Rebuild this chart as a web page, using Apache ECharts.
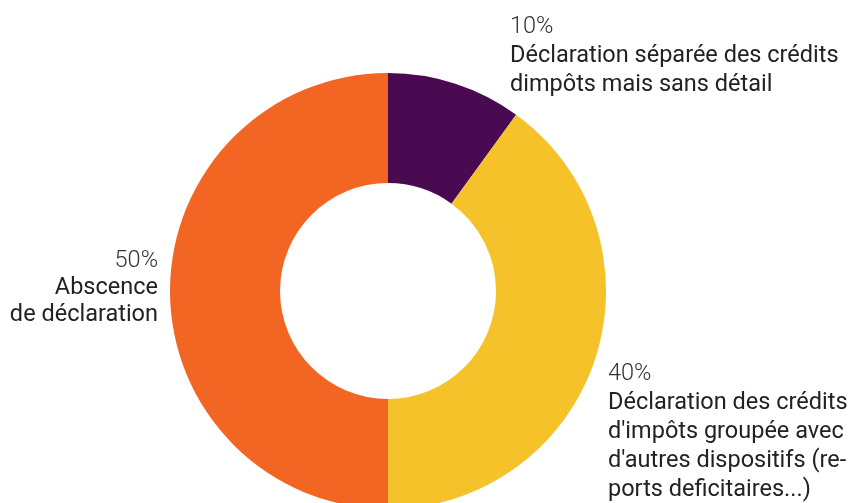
<!DOCTYPE html>
<html>
<head>
<meta charset="utf-8">
<script src="https://cdn.jsdelivr.net/npm/echarts@6/dist/echarts.min.js"></script>
<style>html,body{margin:0;padding:0;background:#fff}#c{width:852px;height:503px}</style>
</head>
<body>
<div id="c"></div>
<script>
const categories = [
  "Déclaration séparée des crédits\ndimpôts mais sans détail",
  "Déclaration des crédits\nd'impôts groupée avec\nd'autres dispositifs (re-\nports deficitaires...)",
  "Abscence\nde déclaration"
];
const values = [10, 40, 50];
const colors = ["#4a0a52", "#f5c22a", "#f26522"];

const labelSpots = [
  {x: 510, y: 13, align: 'left', lh: 29},
  {x: 608, y: 360, align: 'left', lh: 29},
  {x: 158, y: 247.5, align: 'right', lh: 27}
];

function richFor(lh) {
  return {
    p: {fontFamily: 'Roboto', fontWeight: 300, fontSize: 23.5, color: '#333', lineHeight: lh},
    t: {fontFamily: 'Roboto', fontWeight: 400, fontSize: 23.5, color: '#222', lineHeight: lh}
  };
}

const chart = echarts.init(document.getElementById('c'));
chart.setOption({
  animation: false,
  series: [{
    type: 'pie',
    center: [388, 291],
    radius: [108, 218],
    startAngle: 90,
    clockwise: true,
    avoidLabelOverlap: false,
    data: categories.map((n, i) => ({
      name: n, value: values[i], itemStyle: {color: colors[i]},
      label: {rich: richFor(labelSpots[i].lh)}
    })),
    label: {
      show: true,
      position: 'outside',
      formatter: p => '{p|' + p.value + '%}\n' + p.name.split('\n').map(s => '{t|' + s + '}').join('\n'),
      rich: richFor(28)
    },
    labelLine: {show: false},
    labelLayout: function (params) {
      const s = labelSpots[params.dataIndex];
      return {x: s.x, y: s.y, align: s.align, verticalAlign: 'top'};
    }
  }]
});
</script>
</body>
</html>
